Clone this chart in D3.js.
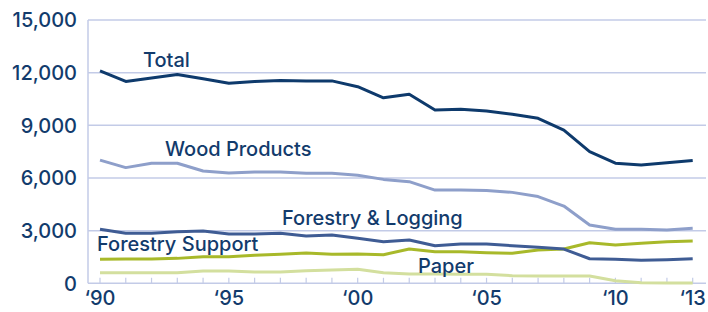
<!DOCTYPE html>
<html>
<head>
<meta charset="utf-8">
<script src="https://cdn.jsdelivr.net/npm/d3@7"></script>
<style>
  body { margin: 0; background: #fff; }
  svg text { font-family: Inter, "Noto Sans", sans-serif; fill: #123b6c; font-weight: 500; }
</style>
</head>
<body>
<svg width="708" height="312"></svg>
<script>
var years = d3.range(1990, 2014);
var xTickYears = [1990, 1995, 2000, 2005, 2010, 2013];
var yTicks = [0, 3000, 6000, 9000, 12000, 15000];

var total = [12100, 11500, 11700, 11900, 11650, 11400, 11500, 11560, 11530, 11530,
             11200, 10570, 10770, 9870, 9910, 9820, 9630, 9400, 8730, 7500,
             6840, 6740, 6870, 7000];
var wood = [7020, 6590, 6840, 6840, 6400, 6290, 6340, 6340, 6270, 6270,
            6160, 5920, 5790, 5310, 5310, 5280, 5180, 4940, 4400, 3320,
            3080, 3080, 3040, 3130];
var logging = [3075, 2850, 2850, 2940, 2980, 2810, 2810, 2850, 2700, 2750,
               2570, 2370, 2470, 2140, 2240, 2240, 2140, 2050, 1950, 1400,
               1370, 1310, 1345, 1400];
var support = [1370, 1380, 1380, 1420, 1515, 1515, 1595, 1650, 1730, 1650,
               1670, 1630, 1950, 1800, 1800, 1745, 1710, 1900, 1950, 2310,
               2180, 2275, 2370, 2410];
var paper = [605, 600, 600, 600, 700, 700, 645, 640, 715, 755,
             795, 605, 530, 530, 510, 510, 435, 415, 415, 415,
             150, 35, 20, 20];

var series = [
  {name: "Paper", values: paper, color: "#d3df9e", lx: 418, ly: 273},
  {name: "Forestry Support", values: support, color: "#a8b92a", lx: 97, ly: 251},
  {name: "Forestry & Logging", values: logging, color: "#3f5c94", lx: 282, ly: 225},
  {name: "Wood Products", values: wood, color: "#8e9fca", lx: 165, ly: 156},
  {name: "Total", values: total, color: "#0e3a6c", lx: 143, ly: 67}
];

var svg = d3.select("svg");

var x = d3.scaleLinear().domain([1990, 2013]).range([100, 692.7]);
var y = d3.scaleLinear().domain([0, 15000]).range([283.3, 20]);

var grid = "#c3cbe7";

svg.append("g").selectAll("line")
  .data(yTicks.slice(1))
  .enter().append("line")
    .attr("x1", 88).attr("x2", 706)
    .attr("y1", function(d) { return y(d); })
    .attr("y2", function(d) { return y(d); })
    .attr("stroke", grid).attr("stroke-width", 1.5);

// baseline + y axis line
svg.append("line").attr("x1", 88).attr("x2", 706)
  .attr("y1", y(0)).attr("y2", y(0))
  .attr("stroke", grid).attr("stroke-width", 1.5);
svg.append("line").attr("x1", 88).attr("x2", 88)
  .attr("y1", y(15000)).attr("y2", y(0))
  .attr("stroke", grid).attr("stroke-width", 1.5);

// inward tick marks for every year
svg.append("g").selectAll("line")
  .data(years)
  .enter().append("line")
    .attr("x1", function(d) { return x(d); })
    .attr("x2", function(d) { return x(d); })
    .attr("y1", y(0)).attr("y2", y(0) - 5.5)
    .attr("stroke", grid).attr("stroke-width", 1.2);

var fmt = d3.format(",");
svg.append("g").selectAll("text")
  .data(yTicks)
  .enter().append("text")
    .attr("x", 77)
    .attr("y", function(d) { return y(d); })
    .attr("dy", "0.36em")
    .attr("text-anchor", "end")
    .style("font-size", "20px")
    .text(function(d) { return fmt(d); });

svg.append("g").selectAll("text")
  .data(xTickYears)
  .enter().append("text")
    .attr("x", function(d) { return x(d); })
    .attr("y", 305)
    .attr("text-anchor", "middle")
    .style("font-size", "20px")
    .text(function(d) { return "\u2018" + String(d).slice(2); });

var line = d3.line()
    .x(function(d, i) { return x(years[i]); })
    .y(function(d) { return y(d); });

svg.append("g").selectAll("path")
  .data(series)
  .enter().append("path")
    .attr("fill", "none")
    .attr("stroke", function(d) { return d.color; })
    .attr("stroke-width", 3)
    .attr("stroke-linejoin", "round")
    .attr("d", function(d) { return line(d.values); });

svg.append("g").selectAll("text")
  .data(series)
  .enter().append("text")
    .attr("x", function(d) { return d.lx; })
    .attr("y", function(d) { return d.ly; })
    .style("font-size", "20px")
    .text(function(d) { return d.name; });
</script>
</body>
</html>
